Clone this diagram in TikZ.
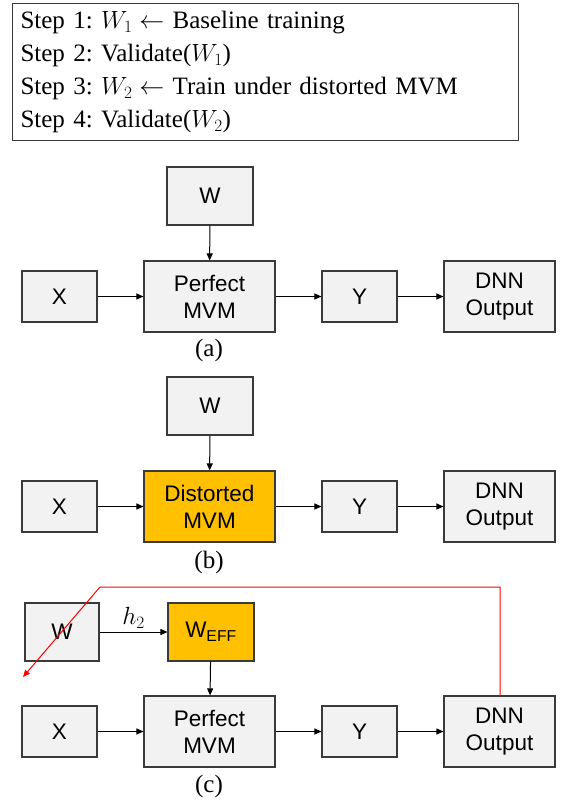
\documentclass[tikz,border=0pt]{standalone}
\usepackage{fontspec}
\setmainfont{Liberation Serif}
\newfontfamily\arialfont{Liberation Sans}
\usetikzlibrary{arrows.meta}
\definecolor{boxgray}{HTML}{F2F2F2}
\definecolor{boxorange}{HTML}{FFC000}
\definecolor{edgegray}{HTML}{3A3A3A}
\tikzset{>={Triangle[length=7pt,width=6pt]}}
\tikzset{
  blk/.style={draw=edgegray, line width=1.1pt, fill=boxgray, align=center, inner sep=0pt,
    font=\arialfont\fontsize{22.5}{27}\selectfont},
  hot/.style={blk, fill=boxorange},
  lnk/.style={->, line width=1pt},
  subcap/.style={font=\fontsize{25}{28}\selectfont}
}
\frenchspacing
\begin{document}
\begin{tikzpicture}[x=1pt, y=-1pt]
\useasboundingbox (0,0) rectangle (566,806);
% steps
\node[draw=edgegray, line width=1pt, anchor=north west, minimum width=506pt, minimum height=137pt,
  text width=490pt, inner xsep=8pt, inner ysep=2pt, align=left,
  font=\fontsize{25}{33}\selectfont] (steps) at (12,3)
  {Step 1: $W_1 \leftarrow$ Baseline training\\
   Step 2: Validate($W_1$)\\
   Step 3: $W_2 \leftarrow$ Train under distorted MVM\\
   Step 4: Validate($W_2$)};

% (a)
\node[blk, minimum width=86pt, minimum height=58pt] (wa) at (210,196) {W};
\node[blk, minimum width=75pt, minimum height=51pt] (xa) at (59.5,296.5) {X};
\node[blk, minimum width=131pt, minimum height=71pt] (mvma) at (209.5,296.5) {Perfect\\MVM};
\node[blk, minimum width=75pt, minimum height=51pt] (ya) at (359.5,296.5) {Y};
\node[blk, minimum width=111pt, minimum height=71pt] (outa) at (499.5,296.5) {DNN\\Output};
\node[subcap] (capa) at (209,350) {(a)};
\draw[lnk] (wa) -- (mvma);
\draw[lnk] (xa) -- (mvma);
\draw[lnk] (mvma) -- (ya);
\draw[lnk] (ya) -- (outa);

% (b)
\node[blk, minimum width=86pt, minimum height=58pt] (wb) at (210,406) {W};
\node[blk, minimum width=75pt, minimum height=51pt] (xb) at (59.5,506.5) {X};
\node[hot, minimum width=131pt, minimum height=71pt] (mvmb) at (209.5,506.5) {Distorted\\MVM};
\node[blk, minimum width=75pt, minimum height=51pt] (yb) at (359.5,506.5) {Y};
\node[blk, minimum width=111pt, minimum height=71pt] (outb) at (499.5,506.5) {DNN\\Output};
\node[subcap] (capb) at (209,562) {(b)};
\draw[lnk] (wb) -- (mvmb);
\draw[lnk] (xb) -- (mvmb);
\draw[lnk] (mvmb) -- (yb);
\draw[lnk] (yb) -- (outb);

% (c)
\node[blk, minimum width=74pt, minimum height=58pt] (wc) at (62,632) {W};
\node[hot, minimum width=86pt, minimum height=58pt] (weff) at (211,632) {W\textsubscript{EFF}};
\node[blk, minimum width=75pt, minimum height=51pt] (xc) at (59.5,731.5) {X};
\node[blk, minimum width=131pt, minimum height=71pt] (mvmc) at (209.5,731.5) {Perfect\\MVM};
\node[blk, minimum width=75pt, minimum height=51pt] (yc) at (359.5,731.5) {Y};
\node[blk, minimum width=111pt, minimum height=71pt] (outc) at (499.5,731.5) {DNN\\Output};
\node[subcap] (capc) at (209,786) {(c)};
\draw[lnk] (wc) -- node[above, font=\fontsize{25}{27}\selectfont]{$h_2$} (weff);
\draw[lnk] (weff) -- (mvmc);
\draw[lnk] (xc) -- (mvmc);
\draw[lnk] (mvmc) -- (yc);
\draw[lnk] (yc) -- (outc);
\coordinate (fbend) at (100,587);
\coordinate (fend) at (23,677);
\draw[red, line width=1pt, ->] (outc.north) ++(0.5,0) |- (fbend) -- (fend);
\end{tikzpicture}
\end{document}
